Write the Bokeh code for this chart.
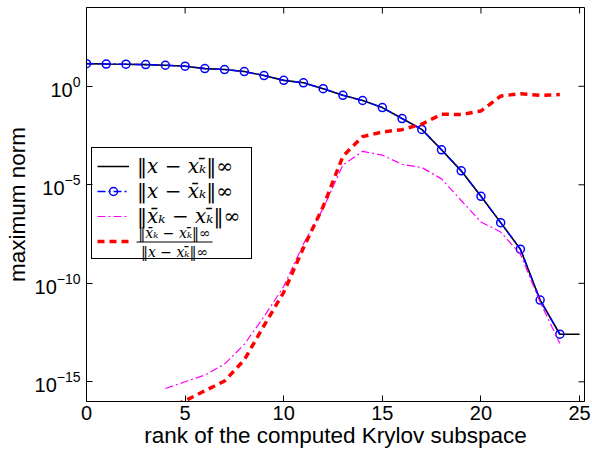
import math
from bokeh.plotting import figure
from bokeh.models import (Range1d, FixedTicker, Legend, LegendItem,
                          LogTickFormatter, BoxAnnotation, Label)
from bokeh.embed import file_html
from bokeh.resources import INLINE

# ---------------- data ----------------
rank_all = list(range(0, 26))                 # 0..25
rank_circ = list(range(0, 25))                # 0..24
rank_tail = list(range(4, 25))                # 4..24

# ||x - x_kbar||_inf  (black solid), ranks 0..25
err_x_xkbar = [14.1, 13.5, 13.2, 12.6, 11.7, 10.5, 7.9, 7.1, 5.6, 3.5,
               2.0, 1.5, 0.76, 0.35, 0.19, 0.083, 0.023, 6.5e-3, 6.0e-4, 5.1e-5,
               2.6e-6, 1.2e-7, 5.4e-9, 1.4e-11, 2.6e-13, 2.6e-13]

# ||x - xbar_k||_inf  (blue dash-dot with circles), ranks 0..24
err_x_xbark = [14.1, 13.5, 13.2, 12.6, 11.7, 10.5, 7.9, 7.1, 5.6, 3.5,
               2.0, 1.5, 0.76, 0.35, 0.19, 0.083, 0.023, 6.5e-3, 6.0e-4, 5.1e-5,
               2.6e-6, 1.2e-7, 5.4e-9, 1.4e-11, 2.6e-13]

# ||xbar_k - x_kbar||_inf  (magenta dash-dot), ranks 4..24
err_xbark_xkbar = [4.6e-16, 1.0e-15, 2.2e-15, 7.9e-15, 7.9e-14, 2.0e-12, 7.0e-11,
                   1.0e-8, 6.3e-7, 1.0e-4, 5.0e-4, 3.2e-4, 1.1e-4, 7.6e-5,
                   2.0e-5, 1.6e-6, 1.3e-7, 4.0e-8, 3.0e-9, 1.1e-11, 8.9e-14]

# ratio ||xbar_k - x_kbar|| / ||x - x_kbar||  (red dashed), ranks 4..24
ratio = [4.0e-17, 1.1e-16, 3.5e-16, 1.1e-15, 1.3e-14, 7.1e-13, 3.5e-11,
         6.3e-9, 7.9e-7, 2.8e-4, 2.8e-3, 4.8e-3, 6.3e-3, 1.2e-2,
         3.8e-2, 3.7e-2, 5.6e-2, 3.2e-1, 4.2e-1, 3.5e-1, 3.8e-1]

x_ticks = [0, 5, 10, 15, 20, 25]
y_ticks = [1e-15, 1e-10, 1e-5, 1e0]
X_MIN, X_MAX = 0, 25.25
Y_MIN, Y_MAX = 1e-16, 1e4

labels = ["‖x − xₖ̄‖∞", "‖x − x̄ₖ‖∞", "‖x̄ₖ − xₖ̄‖∞"]
frac_num = "‖x̄ₖ − xₖ̄‖∞"
frac_den = "‖x − xₖ̄‖∞"

# ---------------- figure ----------------
p = figure(width=592, height=450, output_backend="svg", toolbar_location=None,
           x_range=Range1d(X_MIN, X_MAX), y_range=Range1d(Y_MIN, Y_MAX),
           y_axis_type="log",
           min_border_left=86, min_border_right=8, min_border_top=7, min_border_bottom=49)
p.background_fill_color = "white"
p.border_fill_color = "white"
p.outline_line_color = "black"
p.outline_line_width = 1
p.xgrid.visible = False
p.ygrid.visible = False

TICK_FONT = "Liberation Sans"

xa = p.xaxis[0]
xa.ticker = FixedTicker(ticks=x_ticks)
ya = p.yaxis[0]
ya.ticker = FixedTicker(ticks=y_ticks)
ya.formatter = LogTickFormatter()

for ax in (xa, ya):
    ax.major_tick_in = 6
    ax.major_tick_out = 0
    ax.minor_tick_in = 0
    ax.minor_tick_out = 0
    ax.axis_line_color = "black"
    ax.major_tick_line_color = "black"
    ax.major_label_text_font = TICK_FONT
    ax.major_label_text_font_size = "20px"
    ax.major_label_text_color = "black"
    ax.axis_label_text_font = TICK_FONT
    ax.axis_label_text_font_size = "22.5px"
    ax.axis_label_text_font_style = "normal"
    ax.axis_label_text_color = "black"

xa.axis_label = "rank of the computed Krylov subspace"
xa.major_label_standoff = 4
xa.axis_label_standoff = 0
ya.axis_label = "maximum norm"
ya.major_label_standoff = 6
ya.axis_label_standoff = 2

# mirrored inward ticks on top and right edges (half of each dash is clipped by the frame)
p.scatter(x_ticks, [Y_MAX] * len(x_ticks), marker="dash", angle=math.pi / 2, size=12,
          line_color="black", line_width=1)
p.scatter([X_MAX] * len(y_ticks), y_ticks, marker="dash", size=12,
          line_color="black", line_width=1)

# ---------------- glyphs ----------------
r_black = p.line(rank_all, err_x_xkbar, line_color="black", line_width=1.6)
r_blue = p.line(rank_circ, err_x_xbark, line_color="blue", line_width=1.5, line_dash="8 3 2 3")
r_blue_c = p.scatter(rank_circ, err_x_xbark, marker="circle", size=8,
                     line_color="blue", fill_color=None, line_width=1.5)
r_mag = p.line(rank_tail, err_xbark_xkbar, line_color="magenta", line_width=1.2, line_dash="8 3 2 3")
r_red = p.line(rank_tail, ratio, line_color="red", line_width=3.5, line_dash="7 5")

# fraction label of the 4th legend entry
ROW4 = 142 + 5 + 12.5
for txt, dy in ((frac_num, 9), (frac_den, -9.5)):
    p.add_layout(Label(x=88, y=ROW4 + dy, x_units="screen", y_units="screen", text=txt,
                       text_align="center", text_baseline="middle", text_font="DejaVu Serif",
                       text_font_style="italic", text_font_size="14px", text_color="black"))
p.add_layout(BoxAnnotation(left=50, right=126, bottom=ROW4 - 0.5, top=ROW4 + 0.5,
                           left_units="screen", right_units="screen",
                           bottom_units="screen", top_units="screen",
                           fill_color="black", fill_alpha=1, line_color=None))

leg = Legend(items=[
    LegendItem(label=labels[0], renderers=[r_black]),
    LegendItem(label=labels[1], renderers=[r_blue, r_blue_c]),
    LegendItem(label=labels[2], renderers=[r_mag]),
    LegendItem(label=" ", renderers=[r_red]),
], location=(5, 142))
leg.label_text_font = "DejaVu Serif"
leg.label_text_font_style = "italic"
leg.label_text_font_size = "20px"
leg.label_text_color = "black"
leg.label_height = 25
leg.label_width = 109
leg.glyph_height = 20
leg.glyph_width = 32
leg.label_standoff = 8
leg.border_line_color = "black"
leg.border_line_alpha = 1
leg.border_line_width = 1
leg.background_fill_alpha = 0
leg.spacing = 0
leg.padding = 5
leg.margin = 0
p.add_layout(leg)

open("out.html", "w").write(file_html(p, INLINE))
